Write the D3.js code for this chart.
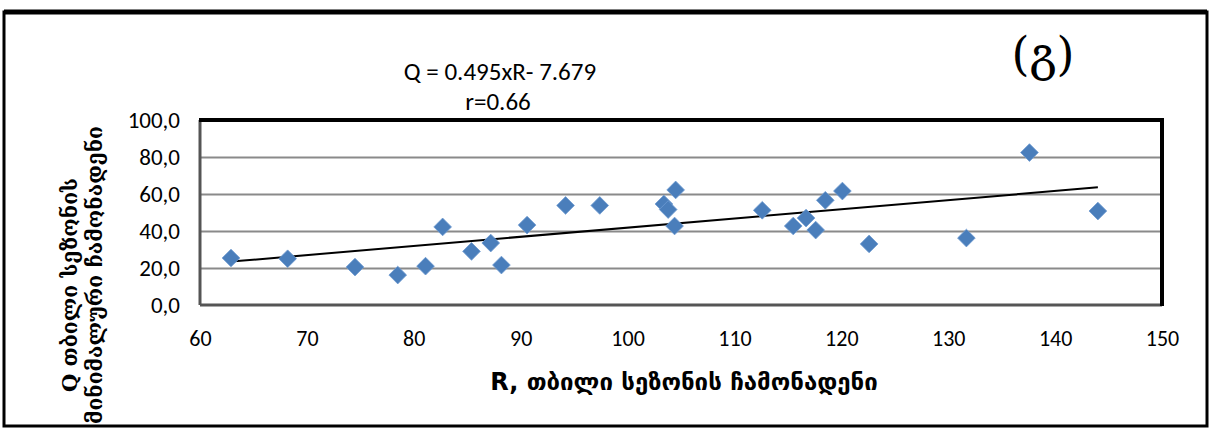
<!DOCTYPE html>
<html>
<head>
<meta charset="utf-8">
<script src="https://cdn.jsdelivr.net/npm/d3@7"></script>
<style>
  html, body { margin: 0; padding: 0; background: #fff; }
  svg { display: block; }
</style>
</head>
<body>
<div id="chart"></div>
<script>
// R, warm-season runoff
const rValues = [62.9, 68.2, 74.5, 78.5, 81.1, 82.7, 85.4, 87.2, 88.2, 90.6, 94.2, 97.4,
  103.4, 103.8, 104.5, 104.4, 112.6, 115.5, 116.7, 117.6, 118.5, 120.1, 122.6, 131.7, 137.6, 144.0];
// Q, warm-season minimum runoff
const qValues = [25.4, 25.0, 20.5, 16.2, 21.0, 42.2, 29.0, 33.5, 21.6, 43.2, 53.8, 53.8,
  54.6, 51.6, 62.2, 42.7, 51.2, 42.7, 47.0, 40.5, 56.6, 61.6, 33.0, 36.2, 82.4, 50.8];
const xTicks = [60, 70, 80, 90, 100, 110, 120, 130, 140, 150];
const yTicks = [0, 20, 40, 60, 80, 100];
const slope = 0.495, intercept = -7.679;
const eqText = "Q = 0.495xR- 7.679";
const rText = "r=0.66";
const panelText = "(გ)";
const xLabel = "R, თბილი სეზონის ჩამონადენი";
const yLabelLines = ["Q თბილი სეზონის", "მინიმალური ჩამონადენი"];

const W = 1213, H = 429;
const plot = { left: 200, top: 120, right: 1162, bottom: 305 };

const svg = d3.select("#chart").append("svg")
  .attr("width", W).attr("height", H);

svg.append("rect").attr("width", W).attr("height", H).attr("fill", "#fff");

// outer frame
svg.append("rect")
  .attr("x", 4).attr("y", 12).attr("width", 1203).attr("height", 414)
  .attr("fill", "none").attr("stroke", "#000").attr("stroke-width", 3);
svg.append("line").attr("x1", 4).attr("x2", 1207).attr("y1", 12).attr("y2", 12)
  .attr("stroke", "#000").attr("stroke-width", 5);

const x = d3.scaleLinear().domain([60, 150]).range([plot.left, plot.right]);
const y = d3.scaleLinear().domain([0, 100]).range([plot.bottom, plot.top]);

// grid
svg.append("g")
  .attr("transform", `translate(${plot.left},0)`)
  .call(d3.axisLeft(y).tickValues(yTicks.slice(1, -1)).tickSize(-(plot.right - plot.left)).tickFormat(""))
  .call(g => g.selectAll("line").attr("stroke", "#8a8a8a").attr("stroke-width", 2))
  .call(g => g.select(".domain").remove());

// plot frame: left/bottom grey, top/right black
svg.append("line").attr("x1", plot.left).attr("x2", plot.left).attr("y1", plot.top).attr("y2", plot.bottom)
  .attr("stroke", "#555").attr("stroke-width", 3);
svg.append("line").attr("x1", plot.left).attr("x2", plot.right).attr("y1", plot.bottom).attr("y2", plot.bottom)
  .attr("stroke", "#555").attr("stroke-width", 3);
svg.append("line").attr("x1", plot.left - 1).attr("x2", plot.right + 2).attr("y1", plot.top).attr("y2", plot.top)
  .attr("stroke", "#000").attr("stroke-width", 4);
svg.append("line").attr("x1", plot.right).attr("x2", plot.right).attr("y1", plot.top).attr("y2", plot.bottom + 1)
  .attr("stroke", "#000").attr("stroke-width", 4);

// axes labels
const yAxis = svg.append("g")
  .attr("transform", `translate(${plot.left - 17},0)`)
  .call(d3.axisLeft(y).tickValues(yTicks).tickSize(0).tickFormat(d => d3.format(".1f")(d).replace(".", ",")))
  .call(g => g.select(".domain").remove());
yAxis.selectAll("text")
  .attr("fill", "#000").style("font-family", "Carlito, 'Liberation Sans', sans-serif").style("font-size", "23px");

const xAxis = svg.append("g")
  .attr("transform", `translate(0,${plot.bottom + 22})`)
  .call(d3.axisBottom(x).tickValues(xTicks).tickSize(0))
  .call(g => g.select(".domain").remove());
xAxis.selectAll("text")
  .attr("fill", "#000").style("font-family", "Carlito, 'Liberation Sans', sans-serif").style("font-size", "22px");

// trend line
const rExt = d3.extent(rValues);
svg.append("line")
  .attr("x1", x(rExt[0])).attr("y1", y(slope * rExt[0] + intercept))
  .attr("x2", x(rExt[1])).attr("y2", y(slope * rExt[1] + intercept))
  .attr("stroke", "#000").attr("stroke-width", 2);

// points
const pts = rValues.map((r, i) => ({ r, q: qValues[i] }));
svg.append("g").selectAll("path")
  .data(pts).enter().append("path")
  .attr("d", d3.symbol().type(d3.symbolDiamond2).size(200))
  .attr("transform", d => `translate(${x(d.r)},${y(d.q)})`)
  .attr("fill", "#4a7ebb")
  .attr("stroke", "#6f9ad0").attr("stroke-width", 0.8);

// texts
svg.append("text").attr("x", 500).attr("y", 80).attr("text-anchor", "middle")
  .style("font-family", "Carlito, 'Liberation Sans', sans-serif").style("font-size", "25px")
  .text(eqText);
svg.append("text").attr("x", 498).attr("y", 110).attr("text-anchor", "middle")
  .style("font-family", "Carlito, 'Liberation Sans', sans-serif").style("font-size", "25px")
  .text(rText);
svg.append("text").attr("x", 1043).attr("y", 70).attr("text-anchor", "middle")
  .style("font-family", "'DejaVu Serif', serif").style("font-size", "46px")
  .text(panelText);

svg.append("text").attr("x", 684).attr("y", 390).attr("text-anchor", "middle")
  .style("font-family", "'DejaVu Sans', sans-serif").style("font-size", "24px")
  .style("font-weight", "bold")
  .text(xLabel);

const ylCenters = [[70, 285], [95, 275]];
yLabelLines.forEach((line, i) => {
  svg.append("text")
    .attr("transform", `translate(${ylCenters[i][0]},${ylCenters[i][1]}) rotate(-90)`)
    .attr("text-anchor", "middle").attr("dy", "0.35em")
    .style("font-family", "'DejaVu Serif', serif").style("font-size", "21px")
    .style("font-weight", "bold")
    .text(line);
});
</script>
</body>
</html>
